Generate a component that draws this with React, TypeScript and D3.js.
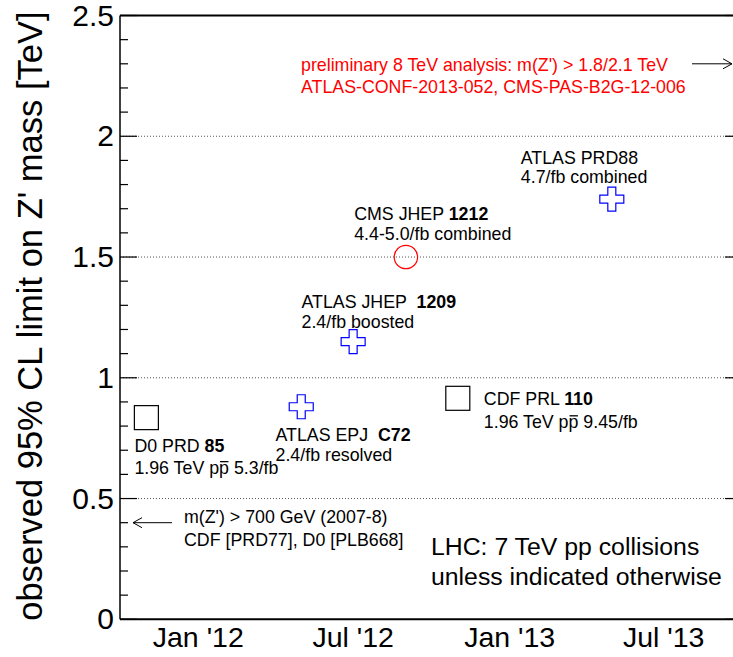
import { useEffect, useRef } from 'react';
import * as d3 from 'd3';

// measurements: date of publication, observed limit (TeV)
const categories = ['D0 PRD 85', 'ATLAS EPJ C72', 'ATLAS JHEP 1209', 'CMS JHEP 1212', 'CDF PRL 110', 'ATLAS PRD88'];
const pubDates = ['2011-11-01', '2012-05-01', '2012-07-01', '2012-09-01', '2012-11-01', '2013-05-01'];
const limits = [0.835, 0.88, 1.15, 1.5, 0.915, 1.74];
const markerKinds = ['square', 'cross', 'cross', 'circle', 'square', 'cross'];

// label text per measurement: segments with bold (b) / overline (o)
type Seg = { t: string; b?: boolean; o?: boolean };
const labelLines: Seg[][][] = [
  [[{ t: 'D0 PRD ' }, { t: '85', b: true }], [{ t: '1.96 TeV p' }, { t: 'p', o: true }, { t: ' 5.3/fb' }]],
  [[{ t: 'ATLAS EPJ  ' }, { t: 'C72', b: true }], [{ t: '2.4/fb resolved' }]],
  [[{ t: 'ATLAS JHEP  ' }, { t: '1209', b: true }], [{ t: '2.4/fb boosted' }]],
  [[{ t: 'CMS JHEP ' }, { t: '1212', b: true }], [{ t: '4.4-5.0/fb combined' }]],
  [[{ t: 'CDF PRL ' }, { t: '110', b: true }], [{ t: '1.96 TeV p' }, { t: 'p', o: true }, { t: ' 9.45/fb' }]],
  [[{ t: 'ATLAS PRD88' }], [{ t: '4.7/fb combined' }]],
];

const xTickDates = ['2012-01-01', '2012-07-01', '2013-01-01', '2013-07-01'];
const xTickLabels = ["Jan '12", "Jul '12", "Jan '13", "Jul '13"];
const yMajorTicks = [0, 0.5, 1, 1.5, 2, 2.5];
const yGridValues = [0.5, 1, 1.5, 2];

const prelimLines = ["preliminary 8 TeV analysis: m(Z') > 1.8/2.1 TeV", 'ATLAS-CONF-2013-052, CMS-PAS-B2G-12-006'];
const tevatronLines = ["m(Z') > 700 GeV (2007-8)", 'CDF [PRD77], D0 [PLB668]'];
const lhcLines = ['LHC: 7 TeV pp collisions', 'unless indicated otherwise'];
const prelimArrowValue = 2.3;
const tevatronArrowValue = 0.4;

const FONT = '"Liberation Sans", Arial, Helvetica, sans-serif';

export default function App() {
  const svgRef = useRef<SVGSVGElement>(null);

  useEffect(() => {
    if (!svgRef.current) return;
    const root = d3.select(svgRef.current);
    root.selectAll('*').remove();

    const W = 733;
    const H = 657;
    const left = 120;
    const right = 742;
    const top = 15.5;
    const bottom = 619.3;
    const labelSize = 17.8;

    const parse = d3.timeParse('%Y-%m-%d');
    const x = d3
      .scaleTime()
      .domain([new Date(2011, 9, 1), new Date(2013, 9, 1)])
      .range([left, right]);
    const y = d3.scaleLinear().domain([0, 2.5]).range([bottom, top]);

    root.attr('width', W).attr('height', H).style('font-family', FONT);
    root.append('rect').attr('width', W).attr('height', H).attr('fill', '#fff');

    // grid
    root
      .append('g')
      .selectAll('line')
      .data(yGridValues)
      .join('line')
      .attr('x1', left)
      .attr('x2', right)
      .attr('y1', (d) => y(d))
      .attr('y2', (d) => y(d))
      .attr('stroke', '#555')
      .attr('stroke-width', 1)
      .attr('stroke-dasharray', '1,2');

    // frame
    const frame = root.append('g').attr('stroke', '#000').attr('fill', 'none');
    frame.append('line').attr('x1', left).attr('x2', right).attr('y1', top).attr('y2', top).attr('stroke-width', 2);
    frame.append('line').attr('x1', left).attr('x2', right).attr('y1', bottom).attr('y2', bottom).attr('stroke-width', 2);
    frame.append('line').attr('x1', left).attr('x2', left).attr('y1', top).attr('y2', bottom).attr('stroke-width', 1.5);
    frame.append('line').attr('x1', right).attr('x2', right).attr('y1', top).attr('y2', bottom).attr('stroke-width', 1.5);

    // y ticks (major + minor on both sides)
    const minor = d3.range(0, 2.5001, 0.1);
    const ticks = root.append('g').attr('stroke', '#000').attr('stroke-width', 1.2);
    minor.forEach((v) => {
      const isMajor = Math.abs(v * 2 - Math.round(v * 2)) < 1e-6;
      const len = isMajor ? 17 : 8;
      ticks.append('line').attr('x1', left).attr('x2', left + len).attr('y1', y(v)).attr('y2', y(v));
      ticks.append('line').attr('x1', right).attr('x2', right - len).attr('y1', y(v)).attr('y2', y(v));
    });

    root
      .append('g')
      .selectAll('text')
      .data(yMajorTicks)
      .join('text')
      .attr('x', left - 6)
      .attr('y', (d) => y(d) + 10)
      .attr('text-anchor', 'end')
      .style('font-size', '30px')
      .text((d) => d3.format('')(d));

    root
      .append('g')
      .selectAll('text')
      .data(xTickDates)
      .join('text')
      .attr('x', (d) => x(parse(d)!))
      .attr('y', 647)
      .attr('text-anchor', 'middle')
      .style('font-size', '28.5px')
      .text((d, i) => xTickLabels[i]);

    // y axis title
    root
      .append('text')
      .attr('transform', `translate(42,${(bottom + 13) / 2}) rotate(-90)`)
      .attr('text-anchor', 'middle')
      .style('font-size', '34.5px')
      .text("observed 95% CL limit on Z' mass [TeV]");

    // markers
    const S = 24;
    const points = categories.map((c, i) => ({
      name: c,
      cx: x(parse(pubDates[i])!),
      cy: y(limits[i]),
      kind: markerKinds[i],
    }));

    const cross = (cx: number, cy: number) => {
      const a = S / 2;
      const b = S / 6;
      const p = d3.path();
      const pts = [
        [-b, -a], [b, -a], [b, -b], [a, -b], [a, b], [b, b],
        [b, a], [-b, a], [-b, b], [-a, b], [-a, -b], [-b, -b],
      ];
      pts.forEach(([px, py], k) => (k ? p.lineTo(cx + px, cy + py) : p.moveTo(cx + px, cy + py)));
      p.closePath();
      return p.toString();
    };

    const mk = root.append('g').attr('fill', 'none');
    points.forEach((pt) => {
      if (pt.kind === 'square') {
        mk.append('rect')
          .attr('x', pt.cx - S / 2)
          .attr('y', pt.cy - S / 2)
          .attr('width', S)
          .attr('height', S)
          .attr('stroke', '#000')
          .attr('stroke-width', 1.2);
      } else if (pt.kind === 'circle') {
        mk.append('circle').attr('cx', pt.cx).attr('cy', pt.cy).attr('r', 11.7).attr('stroke', '#f00').attr('stroke-width', 1.2);
      } else {
        mk.append('path').attr('d', cross(pt.cx, pt.cy)).attr('stroke', '#00f').attr('stroke-width', 1.2);
      }
    });

    // label offsets relative to marker: dx, first baseline dy, line gap
    const labelLayout = [
      [-12, 34.7, 21.5],
      [-25.7, 34.3, 20],
      [-51.6, -33.2, 20],
      [-51.7, -37.3, 20],
      [26, 6.7, 23],
      [-91, -35, 19],
    ];

    points.forEach((pt, i) => {
      const [dx, dy, gap] = labelLayout[i];
      labelLines[i].forEach((line, j) => {
        const by = pt.cy + dy + j * gap;
        const t = root
          .append('text')
          .attr('x', pt.cx + dx)
          .attr('y', by)
          .style('font-size', `${labelSize}px`)
          .style('white-space', 'pre');
        let idx = 0;
        const bars: number[] = [];
        line.forEach((seg) => {
          const ts = t.append('tspan').text(seg.t);
          if (seg.b) ts.style('font-weight', 'bold');
          if (seg.o) for (let k = 0; k < seg.t.length; k++) bars.push(idx + k);
          idx += seg.t.length;
        });
        // manual overline (anti-particle bar) just above the glyph
        const node = t.node() as SVGTextElement;
        bars.forEach((ci) => {
          const x0 = node.getStartPositionOfChar(ci).x;
          const x1 = node.getEndPositionOfChar(ci).x;
          root
            .append('line')
            .attr('x1', x0 + 1)
            .attr('x2', x1 - 0.5)
            .attr('y1', by - 12.2)
            .attr('y2', by - 12.2)
            .attr('stroke', '#000')
            .attr('stroke-width', 1.3);
        });
      });
    });

    // preliminary 8 TeV note
    prelimLines.forEach((l, j) => {
      root
        .append('text')
        .attr('x', 301)
        .attr('y', 71 + j * 22)
        .attr('fill', '#f00')
        .style('font-size', `${labelSize}px`)
        .text(l);
    });

    const arrow = (x1: number, x2: number, yy: number) => {
      const dir = Math.sign(x2 - x1);
      const g = root.append('g').attr('stroke', '#000').attr('stroke-width', 1).attr('fill', 'none');
      g.append('line').attr('x1', x1).attr('x2', x2).attr('y1', yy).attr('y2', yy);
      g.append('polyline').attr(
        'points',
        `${x2 - dir * 9},${yy - 5} ${x2},${yy} ${x2 - dir * 9},${yy + 5}`
      );
    };
    arrow(692, 732, y(prelimArrowValue));
    arrow(172, 133, y(tevatronArrowValue));

    tevatronLines.forEach((l, j) => {
      root
        .append('text')
        .attr('x', 184)
        .attr('y', 523.3 + j * 22.5)
        .style('font-size', `${labelSize}px`)
        .text(l);
    });

    lhcLines.forEach((l, j) => {
      root
        .append('text')
        .attr('x', 431)
        .attr('y', 555 + j * 30)
        .style('font-size', '24.8px')
        .text(l);
    });
  }, []);

  return <svg ref={svgRef} style={{ position: 'absolute', left: 0, top: 0, display: 'block' }} />;
}
